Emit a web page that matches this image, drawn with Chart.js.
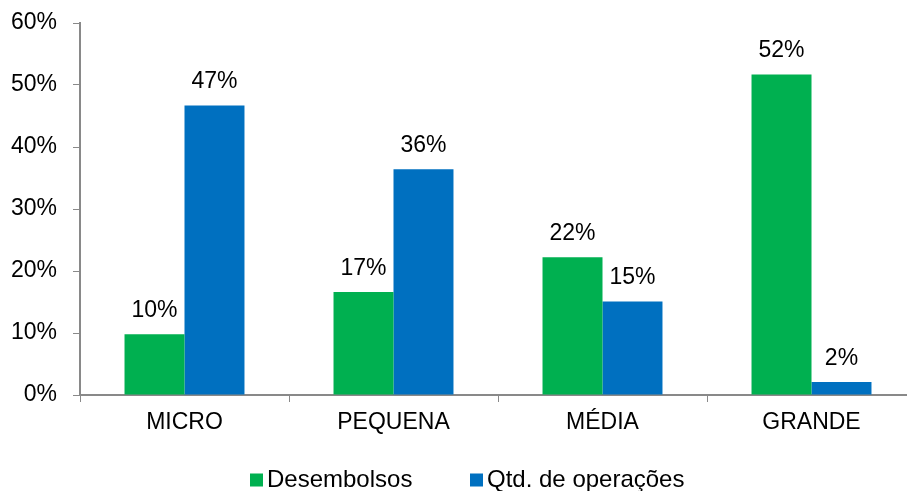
<!DOCTYPE html>
<html>
<head>
<meta charset="utf-8">
<script src="https://cdn.jsdelivr.net/npm/chart.js@4"></script>
<style>
html,body{margin:0;padding:0;background:#fff;overflow:hidden;}
#wrap{position:relative;width:920px;height:491px;}
</style>
</head>
<body>
<div id="wrap"><canvas id="c" width="920" height="491"></canvas></div>
<script>
const categories = ['MICRO', 'PEQUENA', 'MÉDIA', 'GRANDE'];
const seriesNames = ['Desembolsos', 'Qtd. de operações'];
const desembolsos = [9.8, 16.6, 22.2, 51.7];
const operacoes = [46.7, 36.4, 15.1, 2.1];
const yTicks = [0, 10, 20, 30, 40, 50, 60];

const GREEN = '#00B050';
const BLUE = '#0070C0';
const AXIS = '#898989';
const FONT = "'Liberation Sans', Arial, sans-serif";

const valueLabels = {
  id: 'valueLabels',
  afterDatasetsDraw(chart) {
    const ctx = chart.ctx;
    ctx.save();
    ctx.font = '23px ' + FONT;
    ctx.fillStyle = '#000';
    ctx.textAlign = 'center';
    ctx.textBaseline = 'alphabetic';
    chart.data.datasets.forEach((ds, i) => {
      chart.getDatasetMeta(i).data.forEach((bar, j) => {
        ctx.fillText(Math.round(ds.data[j]) + '%', bar.x, bar.y - 17);
      });
    });
    ctx.restore();
  }
};

const bottomLegend = {
  id: 'bottomLegend',
  afterDraw(chart) {
    const ctx = chart.ctx;
    const items = [{x: 250}, {x: 470}];
    const cy = 480;
    ctx.save();
    ctx.font = '24px ' + FONT;
    ctx.textBaseline = 'alphabetic';
    ctx.textAlign = 'left';
    chart.data.datasets.forEach((ds, i) => {
      const it = items[i];
      ctx.fillStyle = ds.backgroundColor;
      ctx.fillRect(it.x, cy - 6.5, 13, 13);
      ctx.fillStyle = '#000';
      ctx.fillText(ds.label, it.x + 17, 487);
    });
    ctx.restore();
  }
};

new Chart(document.getElementById('c'), {
  type: 'bar',
  data: {
    labels: categories,
    datasets: [
      { label: seriesNames[0], data: desembolsos, backgroundColor: GREEN, borderWidth: 0 },
      { label: seriesNames[1], data: operacoes, backgroundColor: BLUE, borderWidth: 0 }
    ]
  },
  options: {
    responsive: false,
    animation: false,
    devicePixelRatio: 1,
    layout: { padding: { top: 23, right: 4, bottom: 0, left: 0 } },
    datasets: { bar: { categoryPercentage: 0.574, barPercentage: 1.0 } },
    plugins: {
      legend: { display: false },
      tooltip: { enabled: false }
    },
    scales: {
      x: {
        grid: { display: true, drawOnChartArea: false, drawTicks: true, tickLength: 7, color: AXIS, offset: true },
        border: { display: true, color: AXIS, width: 2 },
        ticks: { color: '#000', font: { family: FONT, size: 23 }, padding: 7, maxRotation: 0 },
        afterFit(scale) { scale.height = 96; }
      },
      y: {
        min: 0, max: 60,
        afterBuildTicks(scale) { scale.ticks = yTicks.map(v => ({ value: v })); },
        grid: { display: true, drawOnChartArea: false, drawTicks: true, tickLength: 7, color: AXIS },
        border: { display: true, color: AXIS, width: 2 },
        ticks: { color: '#000', font: { family: FONT, size: 23 }, padding: 16, callback: v => v + '%' },
        afterFit(scale) { scale.width = 80; scale.paddingTop = 0; scale.paddingBottom = 0; }
      }
    }
  },
  plugins: [valueLabels, bottomLegend]
});
</script>
</body>
</html>
